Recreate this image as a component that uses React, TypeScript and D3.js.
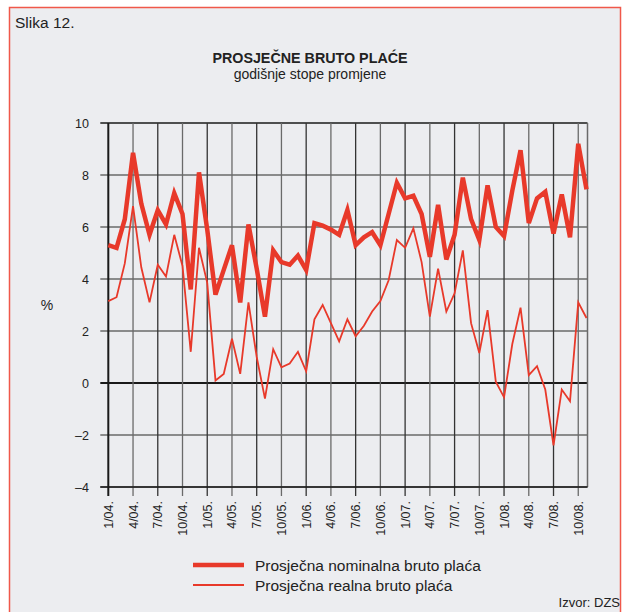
import * as d3 from 'd3';
import React, { useEffect, useRef } from 'react';

// monthly, 1/2004 - 11/2008
const nominal = [
  5.3, 5.2, 6.3, 8.85, 6.9, 5.7, 6.65, 6.1, 7.3, 6.5, 3.6, 8.1,
  5.9, 3.4, 4.35, 5.3, 3.1, 6.1, 4.4, 2.55, 5.1, 4.65, 4.55, 4.9,
  4.35, 6.15, 6.05, 5.9, 5.7, 6.65, 5.3, 5.6, 5.8, 5.3, 6.5, 7.7,
  7.1, 7.2, 6.5, 4.85, 6.85, 4.75, 5.7, 7.9, 6.3, 5.5, 7.6, 6.0,
  5.65, 7.4, 8.95, 6.15, 7.1, 7.35, 5.75, 7.25, 5.6, 9.2, 7.45
];
const real = [
  3.15, 3.3, 4.6, 6.8, 4.45, 3.1, 4.55, 4.1, 5.7, 4.5, 1.2, 5.2,
  3.85, 0.1, 0.35, 1.7, 0.35, 3.1, 1.0, -0.6, 1.3, 0.6, 0.75, 1.2,
  0.45, 2.45, 3.0, 2.3, 1.6, 2.45, 1.8, 2.2, 2.75, 3.15, 3.95, 5.5,
  5.2, 5.95, 4.65, 2.55, 4.4, 2.75, 3.45, 5.1, 2.3, 1.15, 2.8, 0.05,
  -0.55, 1.5, 2.9, 0.3, 0.65, -0.25, -2.4, -0.25, -0.7, 3.1, 2.5
];
const xTickLabels = [
  '1/04.', '4/04.', '7/04.', '10/04.', '1/05.', '4/05.', '7/05.', '10/05.',
  '1/06.', '4/06.', '7/06.', '10/06.', '1/07.', '4/07.', '7/07.', '10/07.',
  '1/08.', '4/08.', '7/08.', '10/08.'
];
const yTicks = [-4, -2, 0, 2, 4, 6, 8, 10];
const legendLabels = ['Prosječna nominalna bruto plaća', 'Prosječna realna bruto plaća'];

const RED = '#E8392A';
const FONT = 'Liberation Sans, Arial, sans-serif';

export default function App() {
  const ref = useRef<SVGSVGElement>(null);

  useEffect(() => {
    const svg = d3.select(ref.current);
    svg.selectAll('*').remove();

    svg.append('rect').attr('width', 624).attr('height', 612).attr('fill', '#fff');
    svg
      .append('rect')
      .attr('x', 9.5)
      .attr('y', 7.5)
      .attr('width', 611)
      .attr('height', 620)
      .attr('fill', '#ECEDF0')
      .attr('stroke', '#F0584A')
      .attr('stroke-width', 1.5);

    const left = 108.3, right = 586.5, top = 123, bottom = 487;
    const x = d3.scaleLinear().domain([0, nominal.length - 1]).range([left, right]);
    const y = d3.scaleLinear().domain([-4, 10]).range([bottom, top]);

    const txt = (s: string, tx: number, ty: number, size: number, anchor = 'start', weight = 'normal') =>
      svg
        .append('text')
        .attr('x', tx)
        .attr('y', ty)
        .attr('font-family', FONT)
        .attr('font-size', size)
        .attr('font-weight', weight)
        .attr('text-anchor', anchor)
        .attr('fill', '#222')
        .text(s);

    txt('Slika 12.', 15, 28, 15.5);
    txt('PROSJEČNE BRUTO PLAĆE', 310, 63, 14.3, 'middle', 'bold');
    txt('godišnje stope promjene', 310, 79, 14, 'middle');
    txt('%', 47, 310, 14, 'middle');
    txt('Izvor: DZS', 620, 607, 13, 'end');

    const g = svg.append('g');

    // horizontal grid
    yTicks.forEach((t) => {
      g.append('line')
        .attr('x1', left - 8)
        .attr('x2', right + 1)
        .attr('y1', y(t))
        .attr('y2', y(t))
        .attr('stroke', t === 0 || t === 10 ? '#1a1a1a' : '#6a6a6a')
        .attr('stroke-width', t === 0 ? 2.2 : 1.3);
      txt(String(t).replace('-', '–'), 89, y(t) + 4.5, 12.5, 'end');
    });

    // vertical grid every 3 months
    xTickLabels.forEach((lab, i) => {
      const xi = x(i * 3);
      g.append('line')
        .attr('x1', xi)
        .attr('x2', xi)
        .attr('y1', top)
        .attr('y2', bottom + 9)
        .attr('stroke', i === 0 ? '#1a1a1a' : i % 2 ? '#6a6a6a' : '#333')
        .attr('stroke-width', i === 0 ? 2 : 1.3);
      svg
        .append('text')
        .attr('transform', `translate(${xi + 4.5},501) rotate(-90)`)
        .attr('font-family', FONT)
        .attr('font-size', 12.5)
        .attr('text-anchor', 'end')
        .attr('fill', '#222')
        .text(lab);
    });
    g.append('line')
      .attr('x1', right + 1)
      .attr('x2', right + 1)
      .attr('y1', top)
      .attr('y2', bottom)
      .attr('stroke', '#6a6a6a')
      .attr('stroke-width', 1.5);
    g.append('line')
      .attr('x1', left - 8)
      .attr('x2', right + 1)
      .attr('y1', bottom)
      .attr('y2', bottom)
      .attr('stroke', '#1a1a1a')
      .attr('stroke-width', 1.3);

    const line = d3
      .line<number>()
      .x((_, i) => x(i))
      .y((d) => y(d));

    svg
      .append('path')
      .attr('d', line(real))
      .attr('fill', 'none')
      .attr('stroke', RED)
      .attr('stroke-width', 1.8)
      .attr('stroke-linejoin', 'miter');
    svg
      .append('path')
      .attr('d', line(nominal))
      .attr('fill', 'none')
      .attr('stroke', RED)
      .attr('stroke-width', 4.5)
      .attr('stroke-linejoin', 'miter');

    // legend
    legendLabels.forEach((lab, i) => {
      const ly = 565 + i * 20;
      svg
        .append('line')
        .attr('x1', 193)
        .attr('x2', 244)
        .attr('y1', ly)
        .attr('y2', ly)
        .attr('stroke', RED)
        .attr('stroke-width', i === 0 ? 4.5 : 2);
      txt(lab, 255, ly + 5.5, 15.5);
    });
  }, []);

  return <svg ref={ref} width={624} height={612} style={{ display: 'block', position: 'absolute', left: 0, top: 0 }} />;
}
